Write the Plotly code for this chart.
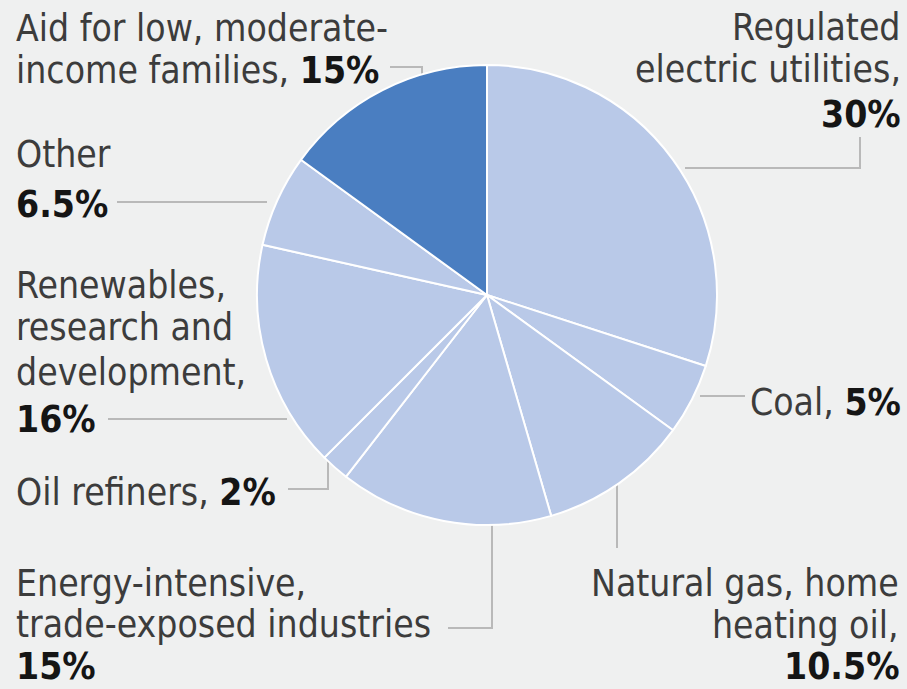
import plotly.graph_objects as go

# slices, clockwise from 12 o'clock
categories = [
    "Regulated electric utilities",
    "Coal",
    "Natural gas, home heating oil",
    "Energy-intensive, trade-exposed industries",
    "Oil refiners",
    "Renewables, research and development",
    "Other",
    "Aid for low, moderate-income families",
]
shares = [30, 5, 10.5, 15, 2, 16, 6.5, 15]
# label text per line; the share in bold is appended to the last line
label_lines = [
    ["Regulated", "electric utilities,", ""],
    ["Coal, "],
    ["Natural gas, home", "heating oil,", ""],
    ["Energy-intensive,", "trade-exposed industries", ""],
    ["Oil refiners, "],
    ["Renewables,", "research and", "development,", ""],
    ["Other", ""],
    ["Aid for low, moderate-", "income families, "],
]

W, H = 907, 689
BG = "#eff0f0"
LIGHT = "#b9c9e8"
DARK = "#4a7ec1"
LINE = "#b9b9b9"
FONT = "DejaVu Sans Condensed, Liberation Sans Narrow, Roboto Condensed, sans-serif"
FS = 37

# pie centre / radius in pixels
cx, cy, r = 487, 295, 230

colors = [LIGHT] * (len(shares) - 1) + [DARK]

fig = go.Figure()
fig.add_trace(
    go.Pie(
        labels=categories,
        values=shares,
        sort=False,
        direction="clockwise",
        rotation=0,
        marker=dict(colors=colors, line=dict(color="white", width=2)),
        textinfo="none",
        hoverinfo="label+value",
        showlegend=False,
        domain=dict(
            x=[(cx - r) / W, (cx + r) / W],
            y=[(H - cy - r) / H, (H - cy + r) / H],
        ),
    )
)

# label placement: x, anchor, baseline of each line (pixels)
label_pos = [
    (903, "right", [40, 82, 127]),
    (903, "right", [415]),
    (901, "right", [596, 638, 679]),
    (14, "left", [596, 637, 679]),
    (14, "left", [505]),
    (14, "left", [298, 340, 385, 432]),
    (14, "left", [167, 217]),
    (14, "left", [41, 83]),
]

# leader lines, pixel polylines
leaders = [
    [(685, 168), (860, 168), (860, 137)],
    [(700, 396), (745, 396)],
    [(617, 478), (617, 548)],
    [(492, 515), (492, 628), (448, 628)],
    [(328, 458), (328, 489), (288, 489)],
    [(287, 419), (108, 419)],
    [(267, 202), (117, 202)],
    [(422, 82), (422, 67), (390, 67)],
]

for lines, val, (x, anchor, bases) in zip(label_lines, shares, label_pos):
    for i, (txt, base) in enumerate(zip(lines, bases)):
        if i == len(lines) - 1:
            txt = f"{txt}<b style='color:#151515'>{val:g}%</b>"
        fig.add_annotation(
            x=x, y=base - 0.345 * FS, xref="x", yref="y",
            text=txt,
            showarrow=False,
            xanchor=anchor, yanchor="middle", align=anchor,
            font=dict(family=FONT, size=FS, color="#3c3c3c"),
        )

for pts in leaders:
    path = "M " + " L ".join(f"{px},{py}" for px, py in pts)
    fig.add_shape(
        type="path", path=path, xref="x", yref="y",
        line=dict(color=LINE, width=2), layer="below",
    )

fig.update_xaxes(range=[0, W], visible=False, fixedrange=True)
fig.update_yaxes(range=[H, 0], visible=False, fixedrange=True)
fig.update_layout(
    width=W, height=H,
    margin=dict(l=0, r=0, t=0, b=0),
    paper_bgcolor=BG, plot_bgcolor=BG,
    showlegend=False,
)
fig.write_html(
    "out.html",
    config={"displayModeBar": False},
    post_script="document.body.style.margin='0';document.body.style.background='%s';" % BG,
)
